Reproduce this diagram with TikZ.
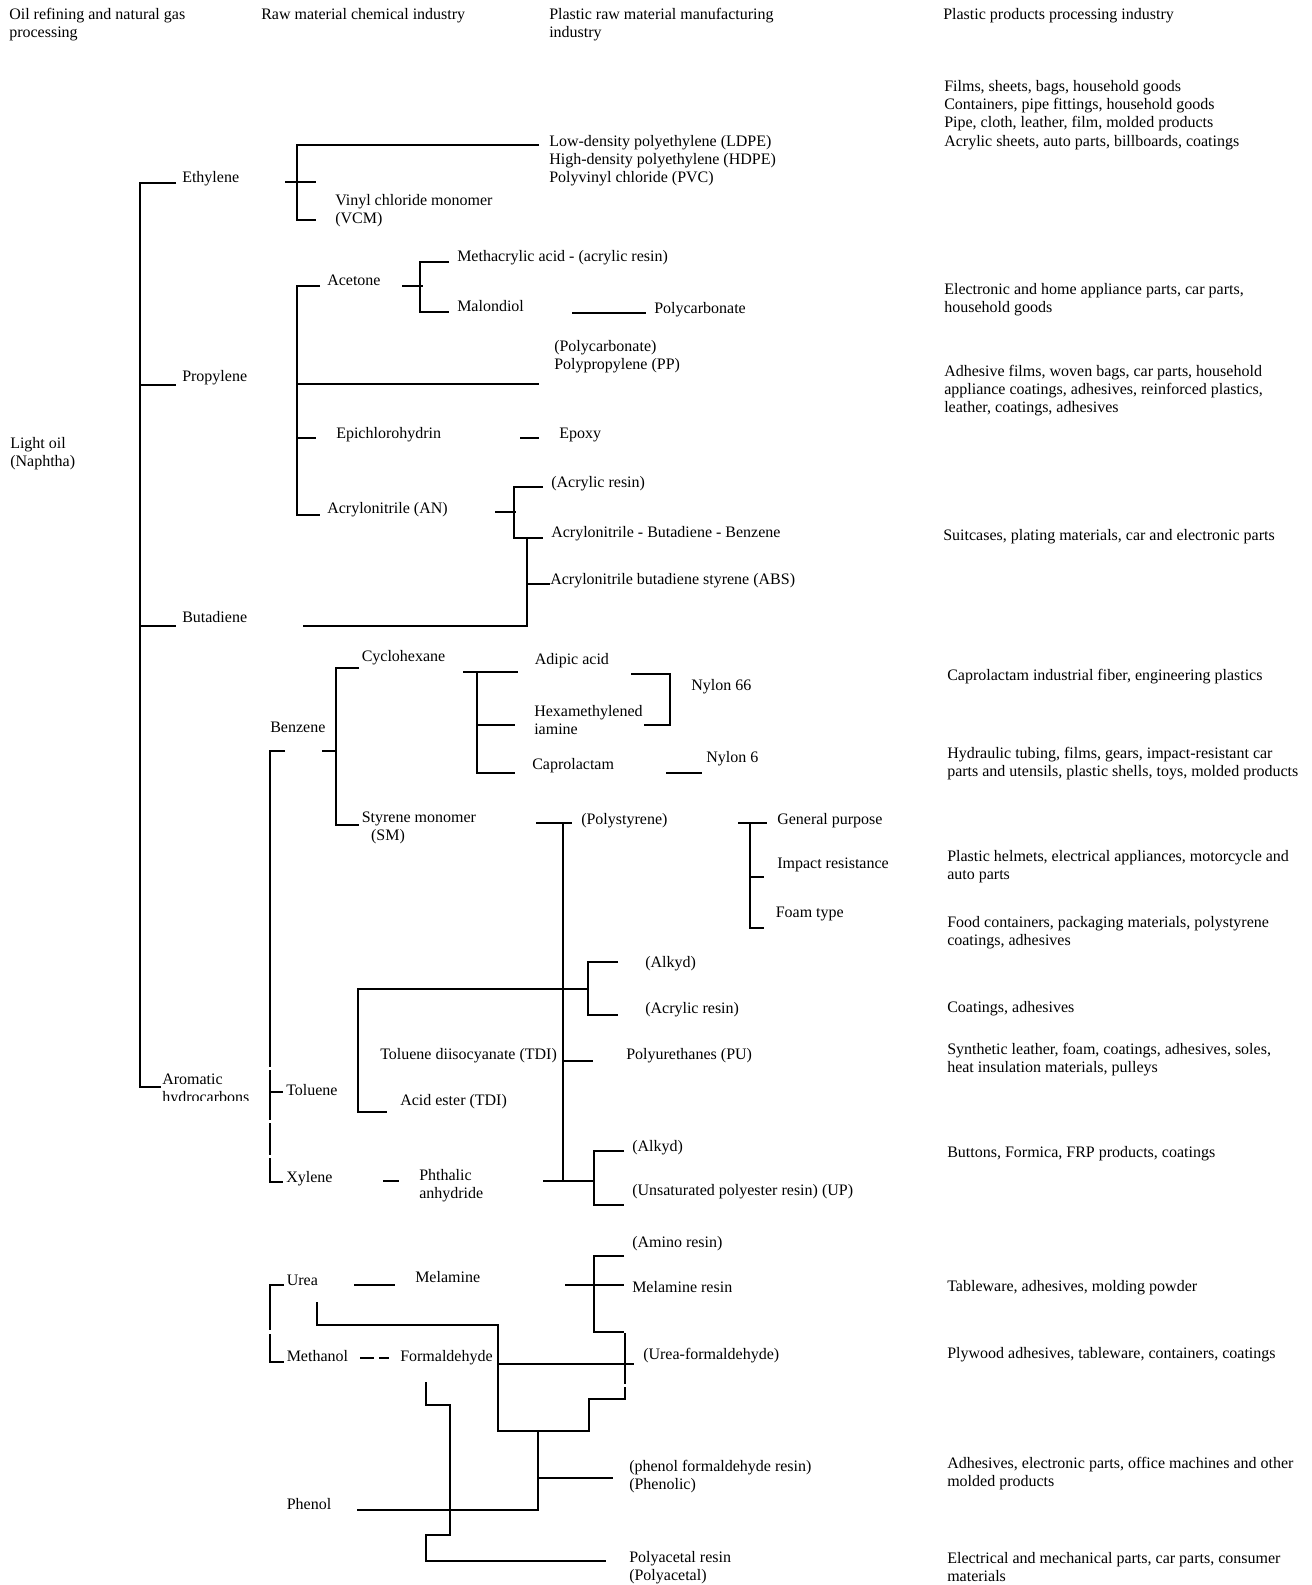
\documentclass[tikz,border=0pt]{standalone}
\usepackage{fontspec}
\setmainfont{Liberation Serif}
\newcommand{\ml}[1]{\begin{tabular}[t]{@{}l@{}}#1\end{tabular}}
\begin{document}
\begin{tikzpicture}[x=0.75pt,y=-0.75pt,
  lbl/.style={anchor=base west, inner sep=0pt, font=\fontsize{12}{13.8}\selectfont},
  ln/.style={line width=1.2pt}]
\path[use as bounding box] (0,0) rectangle (1311,1585);

% ---------- headers ----------
\node[lbl] (h1) at (9,19) {\ml{Oil refining and natural gas\\processing}};
\node[lbl] (h2) at (261,19) {Raw material chemical industry};
\node[lbl] (h3) at (549,19) {\ml{Plastic raw material manufacturing\\industry}};
\node[lbl] (h4) at (943,19) {Plastic products processing industry};

% ---------- right column ----------
\node[lbl] (r1) at (944,91) {\ml{Films, sheets, bags, household goods\\Containers, pipe fittings, household goods\\Pipe, cloth, leather, film, molded products\\Acrylic sheets, auto parts, billboards, coatings}};
\node[lbl] (r2) at (944,294) {\ml{Electronic and home appliance parts, car parts,\\household goods}};
\node[lbl] (r3) at (944,376) {\ml{Adhesive films, woven bags, car parts, household\\appliance coatings, adhesives, reinforced plastics,\\leather, coatings, adhesives}};
\node[lbl] (r4) at (943,540) {Suitcases, plating materials, car and electronic parts};
\node[lbl] (r5) at (947,680) {Caprolactam industrial fiber, engineering plastics};
\node[lbl] (r6) at (947,758) {\ml{Hydraulic tubing, films, gears, impact-resistant car\\parts and utensils, plastic shells, toys, molded products}};
\node[lbl] (r7) at (947,861) {\ml{Plastic helmets, electrical appliances, motorcycle and\\auto parts}};
\node[lbl] (r8) at (947,927) {\ml{Food containers, packaging materials, polystyrene\\coatings, adhesives}};
\node[lbl] (r9) at (947,1012) {Coatings, adhesives};
\node[lbl] (r10) at (947,1054) {\ml{Synthetic leather, foam, coatings, adhesives, soles,\\heat insulation materials, pulleys}};
\node[lbl] (r11) at (947,1157) {Buttons, Formica, FRP products, coatings};
\node[lbl] (r12) at (947,1291) {Tableware, adhesives, molding powder};
\node[lbl] (r13) at (947,1358) {Plywood adhesives, tableware, containers, coatings};
\node[lbl] (r14) at (947,1468) {\ml{Adhesives, electronic parts, office machines and other\\molded products}};
\node[lbl] (r15) at (947,1563) {\ml{Electrical and mechanical parts, car parts, consumer\\materials}};

% ---------- left / first level ----------
\node[lbl] (oil) at (10,448) {\ml{Light oil\\(Naphtha)}};
\node[lbl] (eth) at (182,182) {Ethylene};
\node[lbl] (pro) at (182,381) {Propylene};
\node[lbl] (but) at (182,622) {Butadiene};
\begin{scope}
  \clip (150,1060) rectangle (260,1100);
  \node[lbl] (aro) at (162,1084) {\ml{Aromatic\\hydrocarbons}};
\end{scope}

% ---------- ethylene / propylene branch ----------
\node[lbl] (vcm) at (335,205) {\ml{Vinyl chloride monomer\\(VCM)}};
\node[lbl] (pe) at (549,146) {\ml{Low-density polyethylene (LDPE)\\High-density polyethylene (HDPE)\\Polyvinyl chloride (PVC)}};
\node[lbl] (acet) at (327,285) {Acetone};
\node[lbl] (epi) at (336,438) {Epichlorohydrin};
\node[lbl] (an) at (327,513) {Acrylonitrile (AN)};
\node[lbl] (meth) at (457,261) {Methacrylic acid - (acrylic resin)};
\node[lbl] (malo) at (457,311) {Malondiol};
\node[lbl] (pc) at (654,313) {Polycarbonate};
\node[lbl] (pp) at (554,351) {\ml{(Polycarbonate)\\Polypropylene (PP)}};
\node[lbl] (epo) at (559,438) {Epoxy};
\node[lbl] (acr1) at (551,487) {(Acrylic resin)};
\node[lbl] (abb) at (551,537) {Acrylonitrile - Butadiene - Benzene};
\node[lbl] (abs) at (550,584) {Acrylonitrile butadiene styrene (ABS)};

% ---------- benzene branch ----------
\node[lbl] (cyc) at (361.5,661) {Cyclohexane};
\node[lbl] (benz) at (270,732) {Benzene};
\node[lbl] (adi) at (534.5,664) {Adipic acid};
\node[lbl] (hexa) at (534,716) {\ml{Hexamethylened\\iamine}};
\node[lbl] (capro) at (532,769) {Caprolactam};
\node[lbl] (ny66) at (691,690) {Nylon 66};
\node[lbl] (ny6) at (706,762) {Nylon 6};
\node[lbl] (sm) at (361.5,822) {\ml{Styrene monomer\\\hspace*{7pt}(SM)}};
\node[lbl] (ps) at (581,824) {(Polystyrene)};
\node[lbl] (gp) at (777,824) {General purpose};
\node[lbl] (ir) at (777,868) {Impact resistance};
\node[lbl] (foam) at (775.5,917) {Foam type};

% ---------- toluene / xylene ----------
\node[lbl] (alk1) at (645,967) {(Alkyd)};
\node[lbl] (acr2) at (645,1013) {(Acrylic resin)};
\node[lbl] (tdi) at (380,1059) {Toluene diisocyanate (TDI)};
\node[lbl] (pu) at (626,1059) {Polyurethanes (PU)};
\node[lbl] (ae) at (400,1105) {Acid ester (TDI)};
\node[lbl] (tol) at (286,1095) {Toluene};
\node[lbl] (xyl) at (286,1182) {Xylene};
\node[lbl] (pa) at (419,1180) {\ml{Phthalic\\anhydride}};
\node[lbl] (alk2) at (632,1151) {(Alkyd)};
\node[lbl] (up) at (632,1195) {(Unsaturated polyester resin) (UP)};

% ---------- urea / methanol / phenol ----------
\node[lbl] (amino) at (632,1247) {(Amino resin)};
\node[lbl] (melr) at (632,1292) {Melamine resin};
\node[lbl] (urea) at (286.5,1285) {Urea};
\node[lbl] (meoh) at (286.5,1361) {Methanol};
\node[lbl] (mel) at (415,1282) {Melamine};
\node[lbl] (form) at (400,1361) {Formaldehyde};
\node[lbl] (uf) at (643,1359) {(Urea-formaldehyde)};
\node[lbl] (pf) at (629,1471) {\ml{(phenol formaldehyde resin)\\(Phenolic)}};
\node[lbl] (phen) at (286.5,1509) {Phenol};
\node[lbl] (pom) at (629,1562) {\ml{Polyacetal resin\\(Polyacetal)}};

% ================= lines =================
% main trunk
\draw[ln] (176,183) -- (140,183) -- (140,1087) -- (161,1087);
\draw[ln] (140,385) -- (176,385);
\draw[ln] (140,626) -- (176,626);

% ethylene
\draw[ln] (285,182) -- (316,182);
\draw[ln] (539,145) -- (297,145) -- (297,220) -- (316,220);

% propylene
\draw[ln] (320,286) -- (297,286) -- (297,515) -- (320,515);
\draw[ln] (297,384) -- (539,384);
\draw[ln] (297,438) -- (316,438);

% acetone
\draw[ln] (402,286) -- (423,286);
\draw[ln] (449,262) -- (420,262) -- (420,312) -- (449,312);
\draw[ln] (572,313) -- (646,313);
\draw[ln] (520,438) -- (539,438);

% acrylonitrile
\draw[ln] (495,512) -- (516,512);
\draw[ln] (543,487) -- (514,487) -- (514,538) -- (543,538);
\draw[ln] (527,538) -- (527,626) -- (303,626);
\draw[ln] (527,584) -- (550,584);

% benzene
\draw[ln] (359,668) -- (336,668) -- (336,825) -- (359,825);
\draw[ln] (322,751) -- (336,751);
% aromatic vertical (segmented)
\draw[ln] (285,751) -- (270,751) -- (270,1067);
\draw[ln] (270,1070) -- (270,1120);
\draw[ln] (270,1123) -- (270,1155);
\draw[ln] (270,1158) -- (270,1182) -- (283,1182);
\draw[ln] (270,1092) -- (283,1092);

% cyclohexane
\draw[ln] (463,672) -- (518,672);
\draw[ln] (477,672) -- (477,773) -- (515,773);
\draw[ln] (477,725) -- (515,725);
\draw[ln] (631,674) -- (670,674) -- (670,725) -- (644,725);
\draw[ln] (666,773) -- (702,773);

% polystyrene
\draw[ln] (536,823) -- (572,823);
\draw[ln] (563,823) -- (563,1181);
\draw[ln] (738,823) -- (767,823);
\draw[ln] (750,823) -- (750,928) -- (764,928);
\draw[ln] (750,877) -- (764,877);

% toluene
\draw[ln] (587,989) -- (358,989) -- (358,1112) -- (387,1112);
\draw[ln] (618,962) -- (588,962) -- (588,1015) -- (618,1015);
\draw[ln] (563,1061) -- (593,1061);

% xylene
\draw[ln] (543,1181) -- (594,1181);
\draw[ln] (624,1151) -- (594,1151) -- (594,1205) -- (624,1205);
\draw[ln] (383,1181) -- (399,1181);

% amino resin
\draw[ln] (624,1256) -- (594,1256) -- (594,1332) -- (624,1332);
\draw[ln] (565,1285) -- (624,1285);

% urea / methanol
\draw[ln] (284,1285) -- (270,1285) -- (270,1330);
\draw[ln] (270,1334) -- (270,1362) -- (284,1362);
\draw[ln] (354,1285) -- (395,1285);
\draw[ln] (360,1358) -- (374,1358);
\draw[ln] (379,1358) -- (389,1358);

% urea-formaldehyde
\draw[ln] (317,1302) -- (317,1325) -- (498,1325) -- (498,1431) -- (589,1431) -- (589,1399) -- (625,1399) -- (625,1387);
\draw[ln] (625,1333) -- (625,1384);
\draw[ln] (498,1364) -- (634,1364);

% phenolic
\draw[ln] (538,1431) -- (538,1510) -- (357,1510);
\draw[ln] (538,1478) -- (613,1478);

% polyacetal
\draw[ln] (426,1382) -- (426,1405) -- (450,1405) -- (450,1535) -- (426,1535) -- (426,1561) -- (606,1561);
\end{tikzpicture}
\end{document}
